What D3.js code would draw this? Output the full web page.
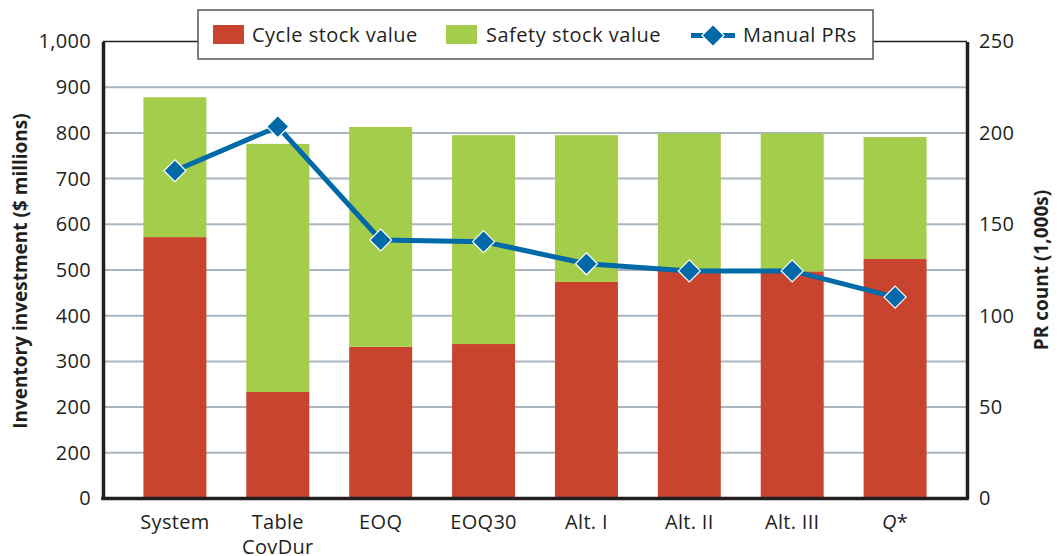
<!DOCTYPE html>
<html>
<head>
<meta charset="utf-8">
<script src="https://cdn.jsdelivr.net/npm/d3@7"></script>
<style>
  body { margin: 0; background: #fff; }
  svg { display: block; font-family: 'Open Sans', 'Noto Sans', sans-serif; }
  .tick text { fill: #231f20; font-family: 'Open Sans', 'Noto Sans', sans-serif; font-size: 20px; letter-spacing: 0.3px; }
  .legend text { fill: #231f20; font-size: 20px; letter-spacing: 0.5px; }
</style>
</head>
<body>
<svg id="chart" width="1059" height="556"></svg>
<script>
// data
const categories = ['System', 'Table CovDur', 'EOQ', 'EOQ30', 'Alt. I', 'Alt. II', 'Alt. III', 'Q*'];
const cycleStock = [572, 233, 332, 338, 474, 500, 497, 524];
const safetyStock = [306, 543, 481, 457, 321, 299, 302, 267];
const manualPRs = [179.3, 203.4, 141.4, 140.5, 128.4, 124.5, 124.5, 110.2];

const leftTicks = [0, 100, 200, 300, 400, 500, 600, 700, 800, 900, 1000];
const leftTickLabels = ['0', '200', '200', '300', '400', '500', '600', '700', '800', '900', '1,000'];
const rightTicks = [0, 50, 100, 150, 200, 250];
const gridValues = [100, 200, 300, 400, 500, 600, 700, 800, 900];

const RED = '#c8442f';
const GREEN = '#a3cd4a';
const BLUE = '#006aa8';
const INK = '#231f20';

const svg = d3.select('#chart');

const x = d3.scaleBand()
    .domain(categories)
    .range([103, 967])
    .paddingInner(0.388)
    .paddingOuter(0.393);

const yL = d3.scaleLinear().domain([0, 1000]).range([498.5, 41.5]);
const yR = d3.scaleLinear().domain([0, 250]).range([498.5, 41.5]);

// gridlines
svg.append('g')
  .selectAll('line')
  .data(gridValues)
  .enter().append('line')
    .attr('x1', 103).attr('x2', 967)
    .attr('y1', d => yL(d)).attr('y2', d => yL(d))
    .attr('stroke', '#aab6bf')
    .attr('stroke-width', 2);

// stacked bars
const stack = d3.stack().keys(['cycle', 'safety'])(
  categories.map((c, i) => ({ cat: c, cycle: cycleStock[i], safety: safetyStock[i] }))
);
const colors = { cycle: RED, safety: GREEN };

svg.append('g')
  .selectAll('g')
  .data(stack)
  .enter().append('g')
    .attr('fill', d => colors[d.key])
  .selectAll('rect')
  .data(d => d)
  .enter().append('rect')
    .attr('x', d => x(d.data.cat))
    .attr('width', x.bandwidth())
    .attr('y', d => yL(d[1]))
    .attr('height', d => yL(d[0]) - yL(d[1]));

// top frame line
svg.append('line')
    .attr('x1', 103).attr('x2', 967)
    .attr('y1', yL(1000)).attr('y2', yL(1000))
    .attr('stroke', INK)
    .attr('stroke-width', 1.6);

// left axis
const gL = svg.append('g')
    .attr('transform', 'translate(103,0)')
    .call(d3.axisLeft(yL)
      .tickValues(leftTicks)
      .tickFormat((d, i) => leftTickLabels[i])
      .tickSize(0)
      .tickPadding(12));
gL.select('.domain').attr('stroke', INK).attr('stroke-width', 3.5);

// right axis
const gR = svg.append('g')
    .attr('transform', 'translate(967,0)')
    .call(d3.axisRight(yR)
      .tickValues(rightTicks)
      .tickSize(0)
      .tickPadding(12));
gR.select('.domain').attr('stroke', INK).attr('stroke-width', 3.5);

// bottom axis
const gB = svg.append('g')
    .attr('transform', 'translate(0,498.5)')
    .call(d3.axisBottom(x).tickSize(0).tickSizeOuter(0).tickFormat(''));
gB.select('.domain').attr('stroke', INK).attr('stroke-width', 3.5)
    .attr('d', 'M101.2,0H968.8');

gB.selectAll('.tick').each(function(d) {
  const t = d3.select(this).append('text')
      .attr('y', 30)
      .attr('text-anchor', 'middle');
  if (d === 'Table CovDur') {
    t.append('tspan').attr('x', 0).text('Table');
    t.append('tspan').attr('x', 0).attr('dy', 25).text('CovDur');
  } else if (d === 'Q*') {
    t.append('tspan').attr('font-style', 'italic').text('Q');
    t.append('tspan').text('*');
  } else {
    t.text(d);
  }
});

// axis titles
svg.append('text')
    .attr('transform', 'translate(27,271) rotate(-90)')
    .attr('text-anchor', 'middle')
    .attr('font-weight', 'bold')
    .attr('font-size', 19)
    .attr('fill', INK)
    .text('Inventory investment ($ millions)');

svg.append('text')
    .attr('transform', 'translate(1048,270) rotate(-90)')
    .attr('text-anchor', 'middle')
    .attr('font-weight', 'bold')
    .attr('font-size', 19)
    .attr('fill', INK)
    .text('PR count (1,000s)');

// manual PR line
const cx = d => x(d) + x.bandwidth() / 2;
svg.append('path')
    .datum(categories.map((c, i) => [cx(c), yR(manualPRs[i])]))
    .attr('fill', 'none')
    .attr('stroke', BLUE)
    .attr('stroke-width', 5)
    .attr('stroke-linejoin', 'round')
    .attr('d', d3.line());

const diamond = 'M0,-11L11,0L0,11L-11,0Z';
svg.append('g')
  .selectAll('path')
  .data(categories)
  .enter().append('path')
    .attr('transform', (c, i) => `translate(${cx(c)},${yR(manualPRs[i])})`)
    .attr('d', diamond)
    .attr('fill', BLUE)
    .attr('stroke', '#fff')
    .attr('stroke-width', 1.2);

// legend
const lg = svg.append('g').attr('class', 'legend');
lg.append('rect')
    .attr('x', 198).attr('y', 10)
    .attr('width', 675).attr('height', 49)
    .attr('fill', '#fff')
    .attr('stroke', '#555')
    .attr('stroke-width', 1.5);

lg.append('rect').attr('x', 213).attr('y', 25).attr('width', 31).attr('height', 19).attr('fill', RED);
lg.append('text').attr('x', 252).attr('y', 42).text('Cycle stock value');

lg.append('rect').attr('x', 446).attr('y', 25).attr('width', 31).attr('height', 19).attr('fill', GREEN);
lg.append('text').attr('x', 486).attr('y', 42).text('Safety stock value');

lg.append('line')
    .attr('x1', 691).attr('x2', 735)
    .attr('y1', 35.5).attr('y2', 35.5)
    .attr('stroke', BLUE).attr('stroke-width', 5);
lg.append('path')
    .attr('transform', 'translate(713,35.5)')
    .attr('d', diamond)
    .attr('fill', BLUE)
    .attr('stroke', '#fff')
    .attr('stroke-width', 1.2);
lg.append('text').attr('x', 743).attr('y', 42).text('Manual PRs');
</script>
</body>
</html>
